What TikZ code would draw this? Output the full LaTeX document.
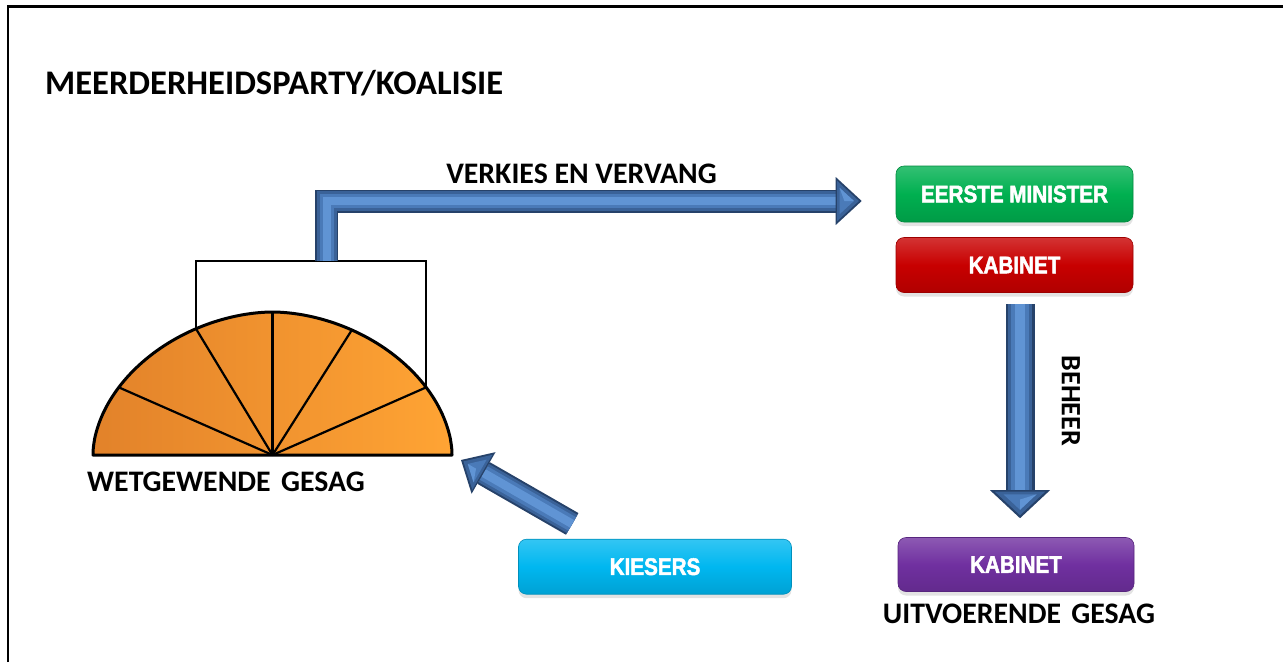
\documentclass[tikz,border=0pt]{standalone}
\usepackage{fontspec}
\setmainfont{Carlito}
\newfontfamily\boxfont{Liberation Sans Bold}[FakeStretch=0.86, FakeBold=2]
\usetikzlibrary{calc,shadows}

\definecolor{arrA}{RGB}{38,66,106}
\definecolor{arrB}{RGB}{58,98,152}
\definecolor{arrC}{RGB}{74,122,184}
\definecolor{arrD}{RGB}{96,148,212}
\definecolor{hemiL}{RGB}{226,130,42}
\definecolor{hemiR}{RGB}{255,164,52}
\definecolor{kgreen}{RGB}{0,176,80}
\definecolor{kred}{RGB}{200,0,0}
\definecolor{kpurple}{RGB}{112,48,160}
\definecolor{kcyan}{RGB}{0,183,240}

% points on the outline of the chamber (a slightly squared half ellipse)
\def\hx#1{272.5+179.5*cos(#1)*pow(abs(cos(#1))+0.00001,0.08)}
\def\hy#1{455-143*pow(abs(sin(#1))+0.00001,1.08)}

% bevelled shaft of a block arrow: width, path
\newcommand\arrowshaft[2]{%
  \pgfmathsetmacro\lwa{#1}%
  \pgfmathsetmacro\lwb{0.84*#1}%
  \pgfmathsetmacro\lwc{0.62*#1}%
  \pgfmathsetmacro\lwd{0.34*#1}%
  \draw[shaft, arrA, line width=\lwa pt] #2;
  \draw[shaft, arrB, line width=\lwb pt] #2;
  \draw[shaft, arrC, line width=\lwc pt] #2;
  \draw[shaft, arrD, line width=\lwd pt] #2;
}
% bevelled head of a block arrow: base centre, tip, half width
\newcommand\arrowhead[3]{%
  \coordinate (ah-a) at ($(#1)!#3pt!90:(#2)$);
  \coordinate (ah-b) at ($(#1)!#3pt!-90:(#2)$);
  \coordinate (ah-c) at ($(#1)!0.333!(#2)$);
  \fill[arrA] (ah-a) -- (#2) -- (ah-b) -- cycle;
  \fill[arrB] ($(ah-a)!0.16!(ah-c)$) -- ($(#2)!0.16!(ah-c)$) -- ($(ah-b)!0.16!(ah-c)$) -- cycle;
  \fill[arrC] ($(ah-a)!0.45!(ah-c)$) -- ($(#2)!0.45!(ah-c)$) -- ($(ah-b)!0.45!(ah-c)$) -- cycle;
  \fill[arrD] ($(ah-a)!0.45!(ah-c)$) -- ($(#2)!0.45!(ah-c)$) -- (ah-c) -- cycle;
}

\begin{document}
\begin{tikzpicture}[x=1pt,y=-1pt,
  shaft/.style={line join=miter, line cap=butt},
  caption/.style={font=\bfseries\fontsize{29.8}{34}\selectfont, inner sep=0},
  keybox/.style={rounded corners=8pt, minimum height=55pt, inner sep=0,
    draw=#1!78!black, line width=0.6pt,
    top color=#1!80!white, bottom color=#1!88!black, middle color=#1,
    text=white, font=\boxfont\fontsize{24}{28}\selectfont,
    drop shadow={shadow xshift=0pt, shadow yshift=-4pt, opacity=0.22}},
  spoke/.style={line width=2.2pt}]
\useasboundingbox (0,0) rectangle (1283,662);

% frame
\draw[line width=2.3pt] (8,662) -- (8,6.5) -- (1283,6.5);

% title
\node[caption, font=\bfseries\fontsize{34.5}{38}\selectfont, anchor=base west] (title) at (45,94) {MEERDERHEIDSPARTY/KOALISIE};

% chamber
\coordinate (hc) at (272.5,455);
\coordinate (hr) at ({\hx{0}},455);
\foreach \a in {150,117,90,62,30}
  \coordinate (s\a) at ({\hx{\a}},{\hy{\a}});
\coordinate (rtop) at (0,261);
\fill[left color=hemiL, right color=hemiR]
  plot[domain=0:180, samples=120] ({\hx{\x}},{\hy{\x}}) -- cycle;
\foreach \a in {150,117,90,62,30}
  \draw[spoke] (hc) -- (s\a);
\draw[line width=3pt, line join=round]
  plot[domain=0:180, samples=120] ({\hx{\x}},{\hy{\x}}) -- cycle;
\draw[line width=2.2pt] (s117) -- (s117 |- rtop) -- (s30 |- rtop) -- (s30);
\node[caption, anchor=base] (wg) at (226,491) {WETGEWENDE\hspace{0.35em}GESAG};

% boxes
\node[keybox=kgreen, minimum width=237pt, minimum height=56pt] (em) at (1014.5,194) {EERSTE MINISTER};
\node[keybox=kred, minimum width=237pt] (kab1) at (1014.5,265) {KABINET};
\node[keybox=kpurple, minimum width=236pt, minimum height=54pt] (kab2) at (1016,564.5) {KABINET};
\node[keybox=kcyan, minimum width=273pt] (kies) at (655,566.7) {KIESERS};
\node[caption, anchor=base] (ug) at (1019,623) {UITVOERENDE\hspace{0.35em}GESAG};

% elects and replaces
\coordinate (v-start) at ($(s117 |- rtop)+(131,0)$);
\coordinate (v-tip) at ($(em.west)+(-34,7)$);
\coordinate (v-base) at ($(v-tip)+(-26,0)$);
\arrowshaft{23}{(v-start) |- (v-base)}
\arrowhead{v-base}{v-tip}{24}
\node[caption, anchor=base] (vlab) at (581.5,183) {VERKIES EN VERVANG};

% controls
\coordinate (b-start) at ($(kab1.south)+(5.5,11)$);
\coordinate (b-tip) at ($(kab2.north)+(4,-19)$);
\coordinate (b-base) at ($(b-tip)!28pt!(b-start)$);
\arrowshaft{29}{(b-start) -- (b-base)}
\arrowhead{b-base}{b-tip}{30}
\node[caption, font=\bfseries\fontsize{28}{32}\selectfont, rotate=-90] (blab) at (1071,401) {BEHEER};

% voters
\coordinate (k-start) at ($(kies.north west)+(54,-15)$);
\coordinate (k-tip) at ($(hr)+(9,5)$);
\coordinate (k-base) at ($(k-tip)!26pt!(k-start)$);
\arrowshaft{25}{(k-start) -- (k-base)}
\arrowhead{k-base}{k-tip}{24}
\end{tikzpicture}
\end{document}
